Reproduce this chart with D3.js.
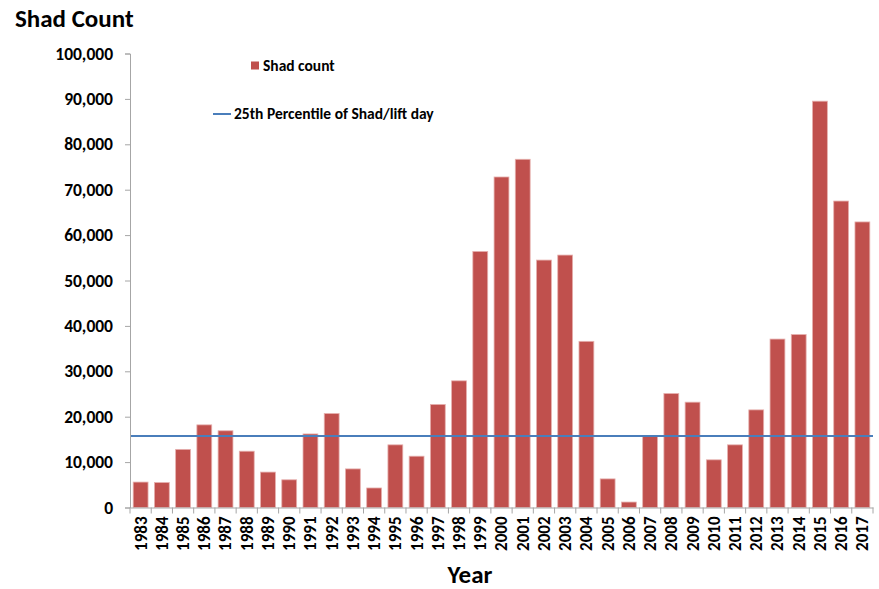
<!DOCTYPE html>
<html><head><meta charset="utf-8">
<script src="https://cdn.jsdelivr.net/npm/d3@7"></script>
<style>body{margin:0;background:#fff}svg{display:block}text{font-family:Carlito,Calibri,"Open Sans","Liberation Sans",sans-serif;font-weight:bold;fill:#000}</style>
</head><body><svg id="c" width="879" height="589"></svg>
<script>
const years = ["1983","1984","1985","1986","1987","1988","1989","1990","1991","1992","1993","1994","1995","1996","1997","1998","1999","2000","2001","2002","2003","2004","2005","2006","2007","2008","2009","2010","2011","2012","2013","2014","2015","2016","2017"];
const shadCount = [5600,5500,12800,18200,16900,12400,7800,6100,16200,20700,8500,4300,13800,11300,22700,27900,56400,72800,76700,54500,55600,36600,6300,1200,15800,25100,23200,10500,13800,21500,37100,38100,89500,67500,62900];
const percentile25 = 15750;
const yTicks = [0,10000,20000,30000,40000,50000,60000,70000,80000,90000,100000];

const svg = d3.select("#c");
const L = 130, R = 873, T = 53.5, B = 507.5;
const x = d3.scaleBand().domain(years).range([L, R]).paddingInner(0.3).paddingOuter(0.15);
const y = d3.scaleLinear().domain([0, 100000]).range([B, T]);
const axisColor = "#a6a6a6";

// bars
svg.append("g").selectAll("rect").data(years).join("rect")
  .attr("x", d => x(d)).attr("width", x.bandwidth())
  .attr("y", (d,i) => y(shadCount[i])).attr("height", (d,i) => B - y(shadCount[i]))
  .attr("fill", "#c0504d").attr("stroke", "#e6b0ae").attr("stroke-width", 0.8);

// percentile line
svg.append("line").attr("x1", L).attr("x2", R)
  .attr("y1", y(percentile25)).attr("y2", y(percentile25))
  .attr("stroke", "#4a7ebb").attr("stroke-width", 2);

// y axis
const ya = svg.append("g").attr("transform", `translate(${L},0)`)
  .call(d3.axisLeft(y).tickValues(yTicks).tickSize(5).tickPadding(12).tickFormat(d3.format(",")));
ya.select(".domain").attr("stroke", axisColor);
ya.selectAll(".tick line").attr("stroke", axisColor);
ya.selectAll("text").style("font-size", "17.5px").attr("fill", "#000");

// x axis
const xa = svg.append("g").attr("transform", `translate(0,${B})`)
  .call(d3.axisBottom(x).tickSize(0).tickSizeOuter(0));
xa.select(".domain").attr("stroke", axisColor);
xa.selectAll(".tick text").attr("transform", "rotate(-90)")
  .attr("x", -9).attr("y", 0).attr("dy", "0.35em").style("text-anchor", "end")
  .style("font-size", "17px").attr("fill", "#000");
// separator ticks between categories
const bounds = d3.range(years.length + 1).map(i => L + i * (R - L) / years.length);
svg.append("g").selectAll("line").data(bounds).join("line")
  .attr("x1", d => d).attr("x2", d => d).attr("y1", B).attr("y2", B + 6)
  .attr("stroke", axisColor);

// titles
svg.append("text").attr("x", 15).attr("y", 27).style("font-size", "25px").text("Shad Count");
svg.append("text").attr("x", 470).attr("y", 583).attr("text-anchor", "middle").style("font-size", "25px").text("Year");

// legend
svg.append("rect").attr("x", 251).attr("y", 61.5).attr("width", 8).attr("height", 8).attr("fill", "#c0504d");
svg.append("text").attr("x", 263).attr("y", 66).attr("dy", "0.35em").style("font-size", "15.5px").text("Shad count");
svg.append("line").attr("x1", 213).attr("x2", 231).attr("y1", 114).attr("y2", 114).attr("stroke", "#4a7ebb").attr("stroke-width", 2);
svg.append("text").attr("x", 234).attr("y", 114).attr("dy", "0.35em").style("font-size", "15.5px").text("25th Percentile of Shad/lift day");
</script></body></html>
